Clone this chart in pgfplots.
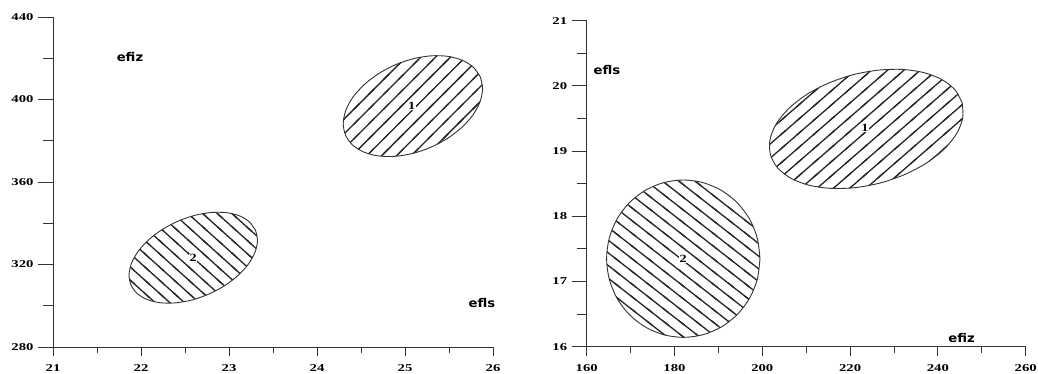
\documentclass[border=0pt]{standalone}
\usepackage{fontspec}
\setmainfont{Liberation Serif}
\newfontfamily\lblfont{DejaVu Sans}
\usepackage{graphicx}
\usepackage{pgfplots}
\pgfplotsset{compat=1.18}
\usetikzlibrary{patterns}

% hatch patterns: tile (w,h) -> spacing w*h/sqrt(w^2+h^2)
\pgfdeclarepatternformonly{hatchLA}{\pgfqpoint{-3pt}{-3pt}}{\pgfqpoint{17.85pt}{17.85pt}}{\pgfqpoint{14.85pt}{14.85pt}}{%
  \pgfsetlinewidth{1.3pt}%
  \pgfpathmoveto{\pgfqpoint{-2.97pt}{-2.97pt}}\pgfpathlineto{\pgfqpoint{17.82pt}{17.82pt}}\pgfusepath{stroke}}
\pgfdeclarepatternformonly{hatchLB}{\pgfqpoint{-3pt}{-3pt}}{\pgfqpoint{17.65pt}{16.19pt}}{\pgfqpoint{14.65pt}{13.19pt}}{%
  \pgfsetlinewidth{1.3pt}%
  \pgfpathmoveto{\pgfqpoint{-2.93pt}{15.83pt}}\pgfpathlineto{\pgfqpoint{17.58pt}{-2.64pt}}\pgfusepath{stroke}}
\pgfdeclarepatternformonly{hatchRA}{\pgfqpoint{-3pt}{-3pt}}{\pgfqpoint{19.31pt}{17.18pt}}{\pgfqpoint{16.31pt}{14.18pt}}{%
  \pgfsetlinewidth{1.3pt}%
  \pgfpathmoveto{\pgfqpoint{-3.26pt}{-2.84pt}}\pgfpathlineto{\pgfqpoint{19.57pt}{17.02pt}}\pgfusepath{stroke}}
\pgfdeclarepatternformonly{hatchRB}{\pgfqpoint{-3pt}{-3pt}}{\pgfqpoint{19.24pt}{15.69pt}}{\pgfqpoint{16.24pt}{12.69pt}}{%
  \pgfsetlinewidth{1.3pt}%
  \pgfpathmoveto{\pgfqpoint{-3.25pt}{15.23pt}}\pgfpathlineto{\pgfqpoint{19.49pt}{-2.54pt}}\pgfusepath{stroke}}

\pgfplotsset{
  baseaxis/.style={
    scale only axis,
    axis line style={line width=0.9pt, black!80},
    tick style={line width=0.9pt, black!80},
    tick align=outside,
    /pgf/number format/assume math mode=true,
    tick label style={font=\fontsize{10.5}{12}\selectfont\bfseries},
    xticklabel={\scalebox{1.4}[1]{\pgfmathprintnumber{\tick}}},
    yticklabel={\scalebox{1.4}[1]{\pgfmathprintnumber{\tick}}},
    clip=false,
  },
  yaxis/.style={baseaxis, axis lines*=left, xtick=\empty,
    major tick length=15pt, minor tick length=10pt, minor y tick num=1,
    yticklabel style={xshift=-1pt}},
  xaxis/.style={baseaxis, axis x line*=bottom, axis y line=none,
    major tick length=9pt, minor tick length=6pt, minor x tick num=1,
    xticklabel style={yshift=-5pt}},
  ell/.style={draw=black!80, line width=0.9pt, smooth, mark=none, pattern color=black!85},
}
\newcommand{\axlbl}[1]{\scalebox{1.1}[1]{\lblfont\bfseries\fontsize{12}{14}\selectfont #1}}
\newcommand{\numlbl}[1]{\scalebox{1.3}[1]{\bfseries\fontsize{11}{12}\selectfont #1}}

\begin{document}
\begin{tikzpicture}
\path[use as bounding box] (0,0) rectangle (1038pt,374pt);

% ---------------- left panel ----------------
\begin{axis}[xaxis, at={(53pt,27pt)}, anchor=south west,
  width=440pt, height=330pt,
  xmin=21, xmax=26, ymin=280, ymax=440,
  xtick={21,22,23,24,25,26}]
\end{axis}
\begin{axis}[yaxis, at={(53pt,27pt)}, anchor=south west,
  width=440pt, height=330pt,
  xmin=21, xmax=26, ymin=280, ymax=440,
  ytick={280,320,360,400,440}]
% ellipse 1
\addplot[ell, pattern=hatchLA] coordinates {
(25.856,410.93) (25.777,415.62) (25.652,419.03) (25.488,420.92) (25.297,421.17) (25.092,419.75)
(24.887,416.78) (24.696,412.44) (24.532,407.04) (24.405,400.94) (24.326,394.55) (24.298,388.32)
(24.325,382.67) (24.403,377.98) (24.528,374.57) (24.692,372.68) (24.883,372.43) (25.088,373.85)
(25.293,376.82) (25.484,381.16) (25.648,386.56) (25.775,392.66) (25.854,399.05) (25.882,405.28)
(25.856,410.93)};
% ellipse 2
\addplot[ell, pattern=hatchLB] coordinates {
(23.301,336.66) (23.229,340.75) (23.115,343.65) (22.965,345.16) (22.789,345.18) (22.601,343.71)
(22.412,340.85) (22.235,336.79) (22.083,331.82) (21.966,326.26) (21.891,320.51) (21.864,314.94)
(21.888,309.94) (21.959,305.85) (22.073,302.95) (22.223,301.44) (22.399,301.42) (22.587,302.89)
(22.776,305.75) (22.953,309.81) (23.105,314.78) (23.223,320.34) (23.297,326.10) (23.324,331.66)
(23.301,336.66)};
\node[fill=white, inner sep=0.3pt] at (axis cs:25.076,396.8) {\numlbl{1}};
\node[fill=white, inner sep=0.3pt] at (axis cs:22.594,323.3) {\numlbl{2}};
\node at (axis cs:21.875,420.6) {\axlbl{efiz}};
\node at (axis cs:25.875,301.3) {\axlbl{efls}};
\end{axis}

% ---------------- right panel ----------------
\begin{axis}[xaxis, at={(586.7pt,27.3pt)}, anchor=south west,
  width=439pt, height=326pt,
  xmin=160, xmax=260, ymin=16, ymax=21,
  xtick={160,180,200,220,240,260}]
\end{axis}
\begin{axis}[yaxis, at={(586.7pt,27.3pt)}, anchor=south west,
  width=439pt, height=326pt,
  xmin=160, xmax=260, ymin=16, ymax=21,
  ytick={16,17,18,19,20,21}]
% ellipse 1
\addplot[ell, pattern=hatchRA] coordinates {
(245.55,19.733) (243.96,19.934) (240.98,20.094) (236.83,20.203) (231.79,20.253) (226.19,20.240)
(220.42,20.167) (214.88,20.037) (209.93,19.860) (205.93,19.647) (203.14,19.413) (201.75,19.175)
(201.85,18.947) (203.44,18.747) (206.42,18.586) (210.57,18.478) (215.62,18.428) (221.21,18.440)
(226.98,18.513) (232.52,18.643) (237.47,18.820) (241.47,19.033) (244.26,19.267) (245.65,19.506)
(245.55,19.733)};
% ellipse 2
\addplot[ell, pattern=hatchRB] coordinates {
(199.47,17.350) (198.87,17.662) (197.13,17.954) (194.35,18.204) (190.74,18.395) (186.52,18.516)
(182.00,18.557) (177.48,18.516) (173.27,18.395) (169.65,18.204) (166.87,17.954) (165.13,17.662)
(164.53,17.350) (165.13,17.038) (166.87,16.747) (169.65,16.497) (173.27,16.305) (177.48,16.184)
(182.00,16.143) (186.52,16.184) (190.74,16.305) (194.35,16.497) (197.13,16.747) (198.87,17.038)
(199.47,17.350)};
\node[fill=white, inner sep=0.3pt] at (axis cs:223.4,19.35) {\numlbl{1}};
\node[fill=white, inner sep=0.3pt] at (axis cs:182.0,17.35) {\numlbl{2}};
\node at (axis cs:164.6,20.24) {\axlbl{efls}};
\node at (axis cs:245.4,16.13) {\axlbl{efiz}};
\end{axis}
\end{tikzpicture}
\end{document}
